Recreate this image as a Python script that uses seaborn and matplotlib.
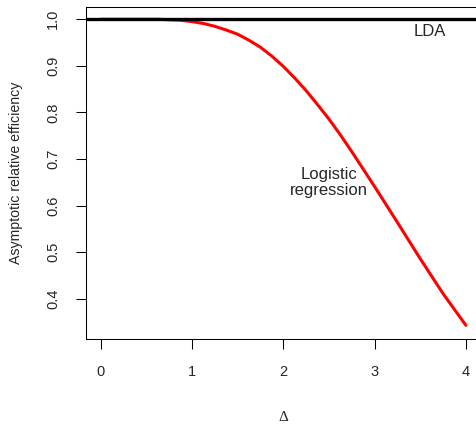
import numpy as np
import pandas as pd
import matplotlib
matplotlib.use("Agg")
import matplotlib.pyplot as plt
import seaborn as sns

# values
delta = [0, 0.25, 0.5, 0.625, 0.75, 0.875, 1.0, 1.125, 1.25, 1.375, 1.5, 1.625, 1.75,
         1.875, 2.0, 2.125, 2.25, 2.375, 2.5, 2.625, 2.75, 3.0, 3.25, 3.5, 3.75, 4.0]
logistic_are = [1.000, 1.000, 1.000, 1.000, 0.999, 0.998, 0.995, 0.991, 0.985, 0.977,
                0.968, 0.955, 0.940, 0.921, 0.899, 0.874, 0.847, 0.817, 0.786, 0.752,
                0.716, 0.641, 0.564, 0.486, 0.411, 0.343]
lda_are = 1.0
x_ticks = [0, 1, 2, 3, 4]
y_ticks = [0.4, 0.5, 0.6, 0.7, 0.8, 0.9, 1.0]

sns.set_style("white")
plt.rcParams['font.family'] = ['Liberation Sans', 'DejaVu Sans']

df = pd.DataFrame({'delta': delta, 'are': logistic_are})

fig = plt.figure(figsize=(4.77, 4.24), dpi=100)
ax = fig.add_axes([0.1803, 0.2005, 0.827, 0.783])

sns.lineplot(data=df, x='delta', y='are', color='red', lw=2.2, ax=ax)
ax.axhline(lda_are, color='black', lw=2.4)

ax.set_xlim(-0.16, 4.16)
ax.set_ylim(0.3136, 1.0264)
ax.set_xticks(x_ticks)
ax.set_xticklabels([str(t) for t in x_ticks])
ax.set_yticks(y_ticks)
ax.set_yticklabels([f"{t:.1f}" for t in y_ticks], rotation=90, va='center')

for s in ax.spines.values():
    s.set_visible(True)
    s.set_color('black')
    s.set_linewidth(0.75)

ax.tick_params(axis='both', direction='out', length=7.5, width=0.75, color='black',
               labelsize=10.5, pad=11, left=True, bottom=True)

ax.text(3.6, 0.974, "LDA", ha='center', va='center', fontsize=12)
ax.text(2.5, 0.649, "Logistic\nregression", ha='center', va='center', fontsize=12,
        linespacing=1.1)

ax.set_xlabel("Δ", fontsize=11, family=['Liberation Serif', 'DejaVu Serif'])
ax.set_ylabel("Asymptotic relative efficiency", fontsize=10.2)
ax.xaxis.set_label_coords(0.5, -0.235)
ax.yaxis.set_label_coords(-0.178, 0.5)
ax.xaxis.label.set_va('center')
ax.yaxis.label.set_va('center')

fig.savefig("out.png", dpi=100)
